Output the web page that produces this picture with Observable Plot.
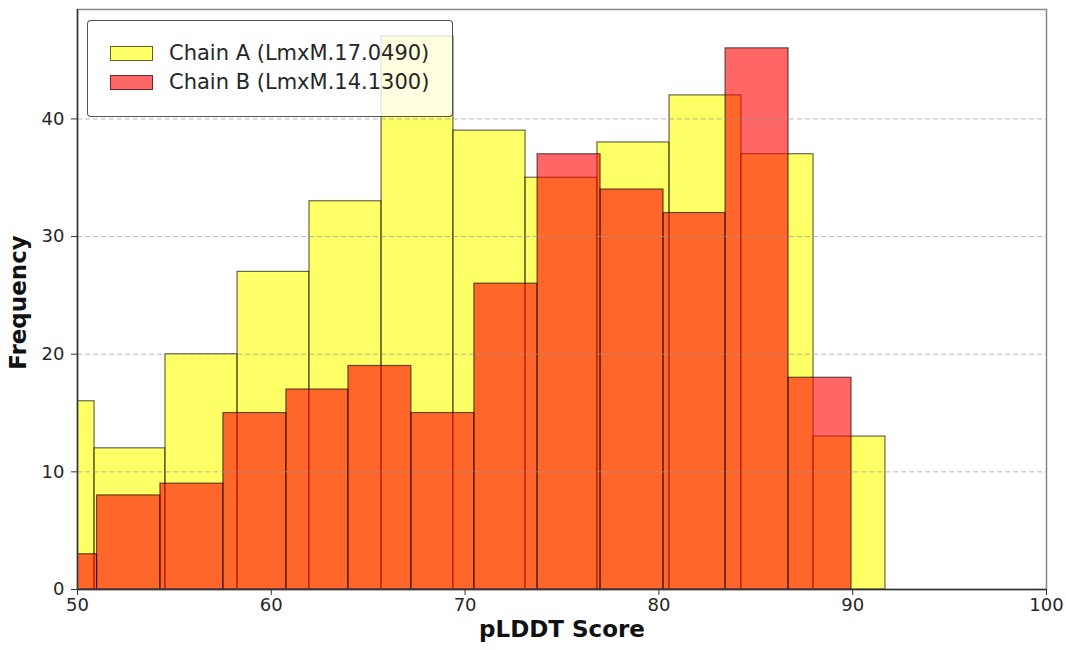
<!DOCTYPE html>
<html>
<head>
<meta charset="utf-8">
<script src="https://cdn.jsdelivr.net/npm/d3@7"></script>
<script src="https://cdn.jsdelivr.net/npm/@observablehq/plot@0.6"></script>
<style>
  html, body { margin: 0; padding: 0; background: #fff; }
  #wrap { position: relative; width: 1066px; height: 650px; font-family: "DejaVu Sans", sans-serif; }
  #legend { position: absolute; left: 87px; top: 20px; width: 364px; height: 95px;
    border: 1px solid rgba(40,40,40,0.8); border-radius: 4px; background: rgba(255,255,255,0.8); }
  .item { position: absolute; left: 22px; height: 30px; display: flex; align-items: center; }
  .patch { width: 43px; height: 15px; border: 1px solid rgba(0,0,0,0.6); box-sizing: border-box; }
  .lab { margin-left: 16px; font-size: 21px; color: #262626; white-space: nowrap; }
</style>
</head>
<body>
<div id="wrap"></div>
<script>
// Chain A histogram (bin edges and counts)
const edgesA = [47.17, 50.88, 54.54, 58.26, 61.97, 65.69, 69.40, 73.12, 76.83, 80.55, 84.26, 87.98, 91.69];
const countsA = [16, 12, 20, 27, 33, 47, 39, 35, 38, 42, 37, 13];
// Chain B histogram
const edgesB = [47.75, 51.01, 54.28, 57.53, 60.78, 63.98, 67.23, 70.48, 73.74, 76.99, 80.24, 83.44, 86.69, 89.94];
const countsB = [3, 8, 9, 15, 17, 19, 15, 26, 37, 34, 32, 46, 18];
const seriesNames = ["Chain A (LmxM.17.0490)", "Chain B (LmxM.14.1300)"];
const seriesColors = ["#ffff00", "#ff0000"];
const xTicks = [50, 60, 70, 80, 90, 100];
const yTicks = [0, 10, 20, 30, 40];
const gridTicks = [10, 20, 30, 40];

const toBins = (edges, counts) => counts.map((c, i) => ({x1: edges[i], x2: edges[i + 1], y: c}));
const binsA = toBins(edgesA, countsA);
const binsB = toBins(edgesB, countsB);

const barStyle = (color) => ({x1: "x1", x2: "x2", y: "y", fill: color, fillOpacity: 0.6,
  stroke: "black", strokeOpacity: 0.6, strokeWidth: 1.2, clip: true, insetLeft: 0, insetRight: 0});

const chart = Plot.plot({
  width: 1066,
  height: 650,
  marginLeft: 77,
  marginRight: 20,
  marginTop: 9,
  marginBottom: 61,
  style: {fontFamily: "DejaVu Sans, sans-serif", fontSize: "18px", color: "#222", background: "white"},
  x: {domain: [50, 100]},
  y: {domain: [0, 49.3]},
  marks: [
    Plot.rectY(binsA, barStyle(seriesColors[0])),
    Plot.rectY(binsB, barStyle(seriesColors[1])),
    Plot.gridY(gridTicks, {stroke: "#999", strokeOpacity: 0.7, strokeDasharray: "5,3", strokeWidth: 1}),
    Plot.frame({stroke: "#888", strokeWidth: 1.5}),
    Plot.ruleX([50], {stroke: "#333", strokeWidth: 1.5}),
    Plot.ruleY([0], {stroke: "#333", strokeWidth: 1.5}),
    Plot.axisX(xTicks, {tickSize: 6, tickPadding: 3, label: null, stroke: "#333", fill: "#262626", fontSize: 18}),
    Plot.axisY(yTicks, {tickSize: 6, tickPadding: 7, label: null, stroke: "#333", fill: "#262626", fontSize: 18}),
    Plot.text(["pLDDT Score"], {frameAnchor: "bottom", dy: 47, fontSize: 23, fontWeight: "bold", fill: "#111"}),
    Plot.text(["Frequency"], {frameAnchor: "left", textAnchor: "middle", dx: -59, dy: 3, rotate: -90, fontSize: 23, fontWeight: "bold", fill: "#111"})
  ]
});

const wrap = document.getElementById("wrap");
wrap.appendChild(chart);

const legend = document.createElement("div");
legend.id = "legend";
seriesNames.forEach((name, i) => {
  const item = document.createElement("div");
  item.className = "item";
  item.style.top = (i === 0 ? 17 : 46) + "px";
  const patch = document.createElement("div");
  patch.className = "patch";
  patch.style.background = i === 0 ? "rgba(255,255,0,0.6)" : "rgba(255,0,0,0.6)";
  const lab = document.createElement("span");
  lab.className = "lab";
  lab.textContent = name;
  item.appendChild(patch);
  item.appendChild(lab);
  legend.appendChild(item);
});
wrap.appendChild(legend);
</script>
</body>
</html>
